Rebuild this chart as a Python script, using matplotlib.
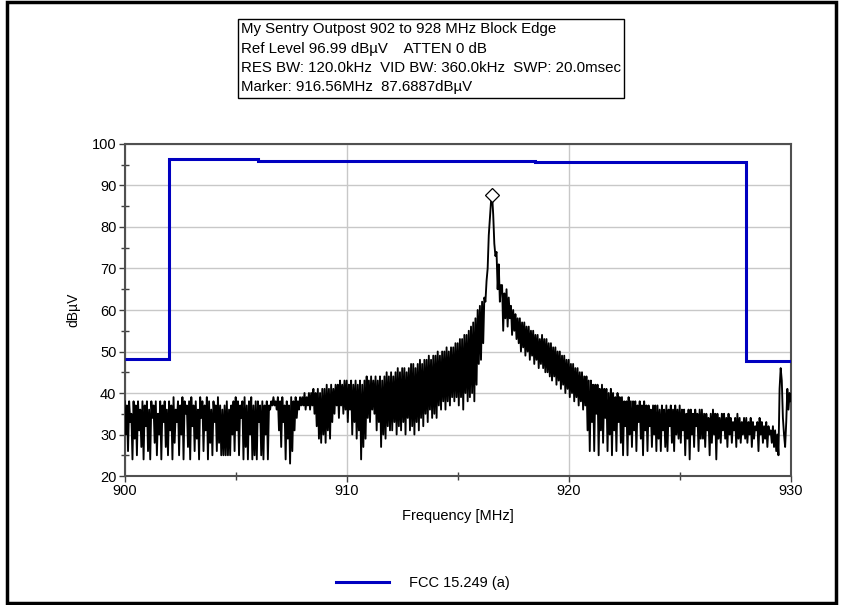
import numpy as np
import matplotlib.pyplot as plt
from matplotlib.patches import Rectangle
from matplotlib.ticker import MultipleLocator

plt.rcParams['font.family'] = ['Liberation Sans', 'DejaVu Sans']

# sweep settings
start_mhz = 900.0
stop_mhz = 930.0

# measured trace, 20 points per MHz (dBuV), one row per MHz
trace_dbuv = [
    38, 30, 37, 26, 38, 33, 35, 24, 38, 29, 37, 25, 38, 31, 36, 27, 38, 24, 37, 32,
    38, 26, 36, 24, 38, 34, 37, 28, 38, 25, 35, 30, 38, 24, 37, 33, 38, 27, 36, 25,
    38, 31, 37, 24, 39, 28, 36, 33, 38, 25, 37, 30, 39, 24, 38, 35, 37, 27, 38, 24,
    39, 32, 37, 26, 38, 29, 36, 24, 39, 34, 38, 26, 37, 31, 39, 24, 38, 28, 36, 25,
    38, 33, 37, 26, 39, 28, 37, 25, 36, 25, 37, 25, 38, 25, 36, 25, 37, 30, 38, 26,
    39, 31, 38, 25, 37, 34, 38, 24, 39, 27, 37, 24, 38, 30, 39, 24, 37, 25, 38, 24,
    38, 33, 37, 25, 38, 24, 37, 30, 38, 24, 37, 36, 38, 37, 39, 37, 38, 36, 39, 31,
    38, 27, 39, 33, 37, 24, 38, 29, 37, 23, 39, 26, 38, 31, 39, 34, 38, 36, 39, 37,
    39, 37, 40, 36, 39, 37, 40, 36, 40, 37, 41, 35, 40, 32, 41, 29, 40, 28, 41, 30,
    41, 28, 42, 31, 41, 29, 42, 33, 41, 35, 42, 37, 42, 34, 43, 37, 42, 35, 43, 36,
    43, 33, 42, 36, 43, 30, 42, 33, 43, 29, 42, 31, 43, 24, 42, 27, 43, 29, 44, 34,
    43, 33, 44, 36, 43, 35, 44, 31, 43, 33, 44, 27, 43, 30, 44, 29, 45, 32, 44, 31,
    45, 31, 44, 33, 45, 30, 46, 32, 45, 31, 46, 33, 46, 30, 45, 34, 46, 31, 47, 32,
    47, 30, 46, 33, 47, 31, 48, 34, 47, 32, 48, 35, 48, 33, 49, 36, 48, 34, 49, 35,
    49, 34, 50, 37, 49, 36, 50, 38, 50, 36, 51, 38, 50, 37, 51, 39, 51, 38, 52, 39,
    52, 37, 53, 39, 53, 36, 54, 40, 54, 38, 55, 39, 56, 40, 57, 38, 58, 42, 60, 47,
    61, 48, 62, 52, 63, 62, 67, 70, 78, 82, 86, 87.7, 83, 76, 73, 74, 65, 71, 62, 66,
    66, 55, 64, 58, 65, 56, 63, 58, 61, 54, 60, 55, 59, 53, 58, 52, 58, 50, 57, 51,
    57, 49, 56, 50, 56, 48, 55, 49, 55, 47, 54, 48, 54, 46, 53, 47, 54, 46, 53, 45,
    53, 45, 52, 44, 52, 43, 51, 44, 51, 42, 50, 43, 50, 41, 49, 42, 49, 40, 48, 41,
    48, 39, 47, 40, 47, 38, 46, 39, 46, 37, 45, 38, 45, 36, 44, 37, 44, 31, 43, 26,
    43, 33, 42, 26, 42, 35, 42, 25, 41, 31, 42, 28, 41, 34, 41, 26, 40, 30, 41, 25,
    40, 31, 39, 26, 40, 33, 39, 28, 39, 25, 38, 32, 38, 25, 39, 30, 38, 27, 38, 31,
    38, 26, 37, 33, 38, 29, 37, 25, 38, 31, 37, 26, 37, 32, 36, 27, 37, 30, 37, 26,
    37, 29, 36, 26, 37, 31, 36, 27, 37, 26, 36, 32, 37, 28, 36, 26, 37, 30, 36, 29,
    37, 28, 36, 31, 36, 25, 35, 29, 36, 24, 36, 30, 35, 27, 36, 32, 35, 26, 36, 29,
    36, 29, 35, 27, 35, 31, 34, 25, 35, 28, 36, 30, 35, 24, 35, 29, 34, 28, 35, 31,
    35, 29, 34, 27, 35, 30, 34, 28, 33, 31, 34, 27, 35, 29, 34, 28, 33, 30, 34, 29,
    34, 28, 33, 30, 34, 27, 33, 29, 32, 31, 33, 26, 34, 30, 33, 28, 32, 29, 33, 27,
    32, 30, 31, 28, 32, 27, 31, 26, 30, 25, 41, 46, 43, 34, 30, 27, 33, 41, 36, 40,
    38,
]

# FCC 15.249 (a) limit, step edges
limit_freq = [900.0, 902.0, 906.0, 918.5, 928.0, 930.0]
limit_dbuv = [48.2, 96.3, 95.9, 95.7, 47.8]

marker_freq = 916.56
marker_dbuv = 87.6887

info_lines = [
    "My Sentry Outpost 902 to 928 MHz Block Edge",
    "Ref Level 96.99 dB\u00b5V    ATTEN 0 dB",
    "RES BW: 120.0kHz  VID BW: 360.0kHz  SWP: 20.0msec",
    "Marker: 916.56MHz  87.6887dB\u00b5V",
]

freqs = np.linspace(start_mhz, stop_mhz, len(trace_dbuv))

fig = plt.figure(figsize=(8.46, 6.05), dpi=100)
ax = fig.add_axes([0.1474, 0.2132, 0.7872, 0.5488])

ax.plot(freqs, trace_dbuv, color='black', lw=1.35, zorder=3)
ax.stairs(limit_dbuv, limit_freq, color='#0000c0', lw=2.2, baseline=None,
          label='FCC 15.249 (a)', zorder=4)
ax.plot([marker_freq], [marker_dbuv], marker='D', ms=7, mfc='white',
        mec='black', mew=0.9, zorder=5)

ax.set_xlim(start_mhz, stop_mhz)
ax.set_ylim(20, 100)
ax.xaxis.set_major_locator(MultipleLocator(10))
ax.xaxis.set_minor_locator(MultipleLocator(5))
ax.yaxis.set_major_locator(MultipleLocator(10))
ax.yaxis.set_minor_locator(MultipleLocator(5))
ax.grid(True, which='major', color='#c8c8c8', lw=1.0)
ax.set_axisbelow(True)
ax.tick_params(which='major', direction='out', length=4, width=1,
               color='#404040', labelsize=10.5, pad=2)
ax.tick_params(which='minor', direction='inout', length=6, width=1,
               color='#404040')
for s in ax.spines.values():
    s.set_color('#505050')
    s.set_linewidth(1.5)

ax.set_xlabel('Frequency [MHz]', fontsize=10.5, labelpad=8)
ax.set_ylabel('dB\u00b5V', fontsize=10, labelpad=8)

ax.legend(loc='center', bbox_to_anchor=(0.5, 1 - 583 / 605),
          bbox_transform=fig.transFigure, frameon=False, fontsize=10.5,
          handlelength=3.6, handletextpad=1.4)

# info box
fig.text(241 / 846, 1 - 22 / 605, "\n".join(info_lines), fontsize=10.8,
         va='top', ha='left', linespacing=1.5,
         bbox=dict(boxstyle='square,pad=0.2', fc='white', ec='black', lw=1.0))

# outer frame
fig.patches.append(Rectangle((7 / 846, 2 / 605), 829 / 846, 601 / 605,
                             transform=fig.transFigure, fill=False,
                             ec='black', lw=2.5))

fig.savefig('out.png', dpi=100)
